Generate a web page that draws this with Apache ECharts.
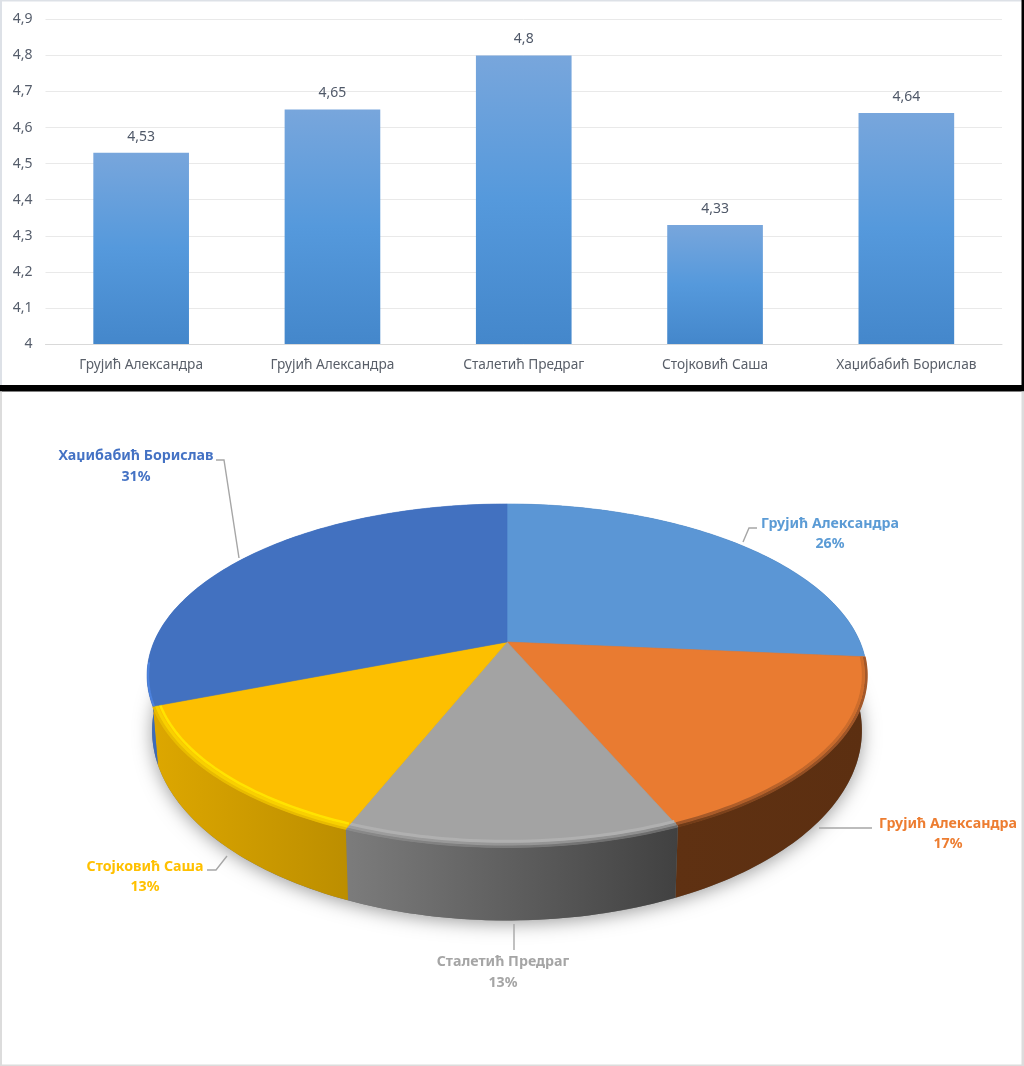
<!DOCTYPE html>
<html><head><meta charset="utf-8">
<style>html,body{margin:0;padding:0;background:#fff}#c{width:1024px;height:1066px}</style>
<script src="https://cdn.jsdelivr.net/npm/echarts@6/dist/echarts.min.js"></script>
</head><body><div id="c"></div>
<script>
const barCategories = ['Грујић Александра','Грујић Александра','Сталетић Предраг','Стојковић Саша','Хаџибабић Борислав'];
const barValues = [4.53,4.65,4.8,4.33,4.64];
const pieNames = ['Грујић Александра','Грујић Александра','Сталетић Предраг','Стојковић Саша','Хаџибабић Борислав'];
const pieValues = [26.4,17.1,12.6,13.0,30.9];
const pieColors = ['#5B9BD5','#ED7D31','#A5A5A5','#FFC000','#4472C4'];
const topColors = ['#5B96D5','#E97B31','#A3A3A3','#FDBF00','#4271C0'];
const wallColors = [['#2F5F8E','#2F5F8E'],['#5F3112','#5C2F11'],['#7C7C7C','#414141'],['#DDA700','#BC8E00'],['#3C6BBA','#3C6BBA']];
const FONT = '"Noto Sans", sans-serif';
const comma = v => String(v).replace('.', ',');

// perspective projection of the pie plane
const P = {cx:507, apexY:642, rx:353, ry:165, k:0.1953};
const project = (ang, sx, sy, dy) => {
  const u = Math.sin(ang), v = -Math.cos(ang), w = 1 - P.k*v;
  return [P.cx + P.rx*sx*u/w, P.apexY + dy + P.ry*sy*v/w];
};
const total = pieValues.reduce((a,b)=>a+b,0);
const angleRange = i => {
  let s = 0; for (let j=0;j<i;j++) s += pieValues[j];
  return [s/total*2*Math.PI, (s+pieValues[i])/total*2*Math.PI];
};
const arc = (a,b,sx,sy,dy) => {
  const n = Math.max(4, Math.ceil((b-a)/0.02)), pts=[];
  for (let i=0;i<=n;i++) pts.push(project(a+(b-a)*i/n,sx,sy,dy));
  return pts;
};
const TOP=[1,1,0], BOT=[0.986,1.107,51.5];
const labelLayout = [
  {x:830,y:[524,544],line:[[743,542],[749,528],[757,528]]},
  {x:948,y:[824,844],line:[[819,828],[872,828]]},
  {x:503,y:[962,983],line:[[514,924],[514,950]]},
  {x:145,y:[867,887],line:[[227,856],[216,870],[207,870]]},
  {x:136,y:[456,477],line:[[239,558],[224,460],[216,460]]}
];
const grad = (c0,c1) => new echarts.graphic.LinearGradient(0,0,1,0,[{offset:0,color:c0},{offset:1,color:c1}]);
const rims = {
  1:[[grad('#6E3A17','#A5592A'),3,0.998,0.997],[grad('#A05628','#D06E2C'),3,0.99,0.985]],
  2:[[grad('#8A8A8A','#6A6A6A'),3,0.998,0.997],[grad('#9E9E9E','#8E8E8E'),3,0.99,0.985],['#B0B0B0',3,0.98,0.972]],
  3:[['#E8BB00',3,0.998,0.997],['#F8D000',3,0.99,0.985],['#FFE300',2.5,0.98,0.972]]
};
const pieData = pieValues.map(v=>[v]);

const chart = echarts.init(document.getElementById('c'),null,{renderer:'canvas'});
chart.setOption({
  animation:false,
  backgroundColor:'#ffffff',
  grid:{left:45.5,right:22,top:19.3,height:324.7},
  xAxis:{type:'category',data:barCategories,
    axisTick:{show:false},axisLine:{lineStyle:{color:'#D9D9D9'}},
    axisLabel:{color:'#595F69',fontFamily:FONT,fontSize:13.7,margin:14}},
  yAxis:{type:'value',min:4,max:4.9,interval:0.1,
    axisLine:{show:false},axisTick:{show:false},
    splitLine:{lineStyle:{color:'#E9E9E9',width:1}},
    axisLabel:{color:'#555D6B',fontFamily:FONT,fontSize:14,margin:13,
      formatter:v=>comma(Math.round(v*10)/10)}},
  series:[
    {type:'bar',data:barValues,barWidth:'50%',silent:true,
      itemStyle:{color:new echarts.graphic.LinearGradient(0,0,0,1,[
        {offset:0,color:'#78A6DC'},{offset:0.5,color:'#5599DC'},{offset:1,color:'#4487CB'}])},
      label:{show:true,position:'top',distance:9,color:'#4F5868',fontFamily:FONT,fontSize:14,
        formatter:p=>comma(p.value)}},
    // shadow and side walls
    {type:'custom',coordinateSystem:'none',data:pieData,silent:true,z:3,
      renderItem:(params,api)=>{
        const i=params.dataIndex; api.value(0);
        const [a,b]=angleRange(i), children=[];
        if(i===0){
          children.push({type:'polygon',shape:{points:arc(0,2*Math.PI,BOT[0],BOT[1],BOT[2])},
            style:{fill:'#777',shadowBlur:18,shadowColor:'rgba(0,0,0,0.38)',shadowOffsetY:3}});
        }
        const pts=arc(a,b,...TOP).concat(arc(a,b,...BOT).reverse());
        const c=wallColors[i];
        children.push({type:'polygon',shape:{points:pts},style:{fill:grad(c[0],c[1])}});
        return {type:'group',children};
      }},
    // top faces and bevels
    {type:'custom',coordinateSystem:'none',data:pieData,silent:true,z:4,
      renderItem:(params,api)=>{
        const i=params.dataIndex; api.value(0);
        const [a,b]=angleRange(i);
        const children=[{type:'polygon',shape:{points:[[P.cx,P.apexY]].concat(arc(a,b,...TOP))},
          style:{fill:topColors[i],stroke:topColors[i],lineWidth:0.6}}];
        (rims[i]||[]).forEach(r=>children.push({type:'polyline',
          shape:{points:arc(a,b,r[2],r[3],0)},style:{fill:null,stroke:r[0],lineWidth:r[1]}}));
        if(i===4) children.push({type:'polyline',shape:{points:arc(a,a+0.25,0.997,1,0)},
          style:{fill:null,stroke:'#4C82DE',lineWidth:2}});
        return {type:'group',children};
      }},
    // labels and leader lines
    {type:'custom',coordinateSystem:'none',data:pieData,silent:true,z:5,
      renderItem:(params,api)=>{
        const i=params.dataIndex, l=labelLayout[i];
        const share=Math.round(api.value(0)/total*100)+'%';
        const txt=(t,y)=>({type:'text',style:{text:t,x:l.x,y,fill:pieColors[i],
          fontFamily:FONT,fontWeight:'bold',fontSize:14.2,align:'center',verticalAlign:'middle'}});
        return {type:'group',children:[
          {type:'polyline',shape:{points:l.line},style:{fill:null,stroke:'#A6A6A6',lineWidth:1.4}},
          txt(pieNames[i],l.y[0]),txt(share,l.y[1])]};
      }}
  ],
  graphic:[
    {type:'rect',z:10,shape:{x:0,y:0,width:1024,height:1.5},style:{fill:'#DDE1E7'}},
    {type:'rect',z:10,shape:{x:0,y:0,width:2,height:385},style:{fill:'#DDE1E7'}},
    {type:'rect',z:10,shape:{x:0,y:385,width:1024,height:6.5},style:{fill:'#000'}},
    {type:'rect',z:10,shape:{x:1021.5,y:0,width:2.5,height:391},style:{fill:'#000'}},
    {type:'rect',z:10,shape:{x:0,y:391.5,width:2,height:674.5},style:{fill:'#DCDCDC'}},
    {type:'rect',z:10,shape:{x:1021.5,y:391.5,width:2.5,height:674.5},style:{fill:'#DCDCDC'}},
    {type:'rect',z:10,shape:{x:0,y:1064.5,width:1024,height:1.5},style:{fill:'#DCDCDC'}}
  ]
});
</script></body></html>
